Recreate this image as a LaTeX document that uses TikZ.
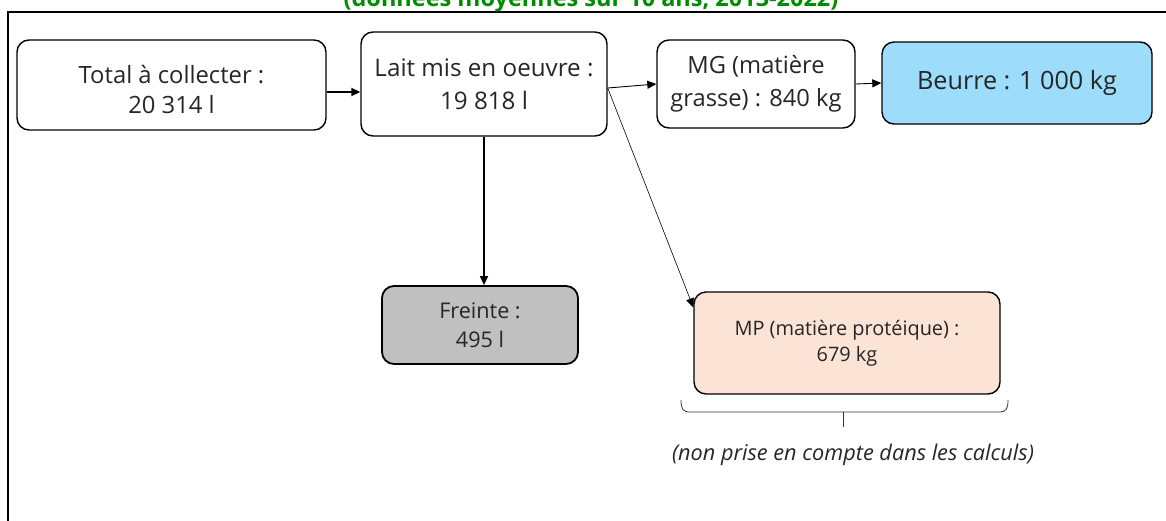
\documentclass[tikz,border=0pt]{standalone}
\usepackage{fontspec}
\setmainfont{Open Sans}
\usetikzlibrary{arrows.meta,calc}
\definecolor{titlegreen}{RGB}{0,140,0}
\definecolor{butterblue}{RGB}{158,220,251}
\definecolor{lossgray}{RGB}{192,192,192}
\definecolor{proteinpeach}{RGB}{251,227,214}
\tikzset{
  flowbox/.style={draw=black, line width=1.4pt, rounded corners=12pt,
    align=center, inner sep=0pt, text=black!85},
  link/.style={-{Triangle[length=9pt,width=8pt]}, line width=0.9pt},
  biglink/.style={link, line width=1.8pt},
  thinlink/.style={link, line width=0.6pt},
}
\begin{document}
\begin{tikzpicture}[x=1pt,y=-1pt]
\useasboundingbox (0,0) rectangle (1166,520);
\clip (0,0) rectangle (1166,520);
% outer frame
\draw[line width=2pt] (8,12) rectangle (1200,560);
% heading, partly above the frame
\node[titlegreen, font=\bfseries\fontsize{23.5}{28}\selectfont, anchor=base, inner sep=0pt]
  (title) at (591,6) {(données moyennes sur 10 ans, 2013-2022)};

% boxes
\node[flowbox, minimum width=309pt, minimum height=90pt, font=\fontsize{23.8}{30}\selectfont]
  (total) at (171.5,85) {};
\node[align=center, inner sep=0pt, text=black!85, font=\fontsize{23.8}{30}\selectfont]
  (totaltext) at ([yshift=-4pt]total.center) {Total à collecter :\\20 314 l};
\node[flowbox, minimum width=246pt, minimum height=104pt, font=\fontsize{24.2}{33}\selectfont]
  (lait) at (484,84) {Lait mis en oeuvre :\\19 818 l};
\node[flowbox, minimum width=198pt, minimum height=88pt, font=\fontsize{23.7}{33}\selectfont]
  (mg) at (756,84) {MG (matière\\grasse) : 840 kg};
\node[flowbox, fill=butterblue, minimum width=270pt, minimum height=82pt, font=\fontsize{25.2}{30}\selectfont]
  (beurre) at (1017,83) {Beurre : 1 000 kg};
\node[flowbox, fill=lossgray, line width=1.8pt, minimum width=196pt, minimum height=78pt, font=\fontsize{21.6}{29}\selectfont]
  (freinte) at (480,325) {Freinte :\\495 l};
\node[flowbox, fill=proteinpeach, minimum width=306pt, minimum height=102pt, font=\fontsize{19.9}{26}\selectfont]
  (mp) at (847,343) {MP (matière protéique) :\\679 kg};

% connectors
\coordinate (split) at ([yshift=-4pt]lait.east);
\draw[biglink] ([yshift=-7pt]total.east) -- ([yshift=-7pt]total.east -| lait.west);
\draw[link, line width=1.5pt] (lait.south) -- (lait.south |- freinte.north);
\draw[link] (split) -- (mg.west);
\draw[link] (mg.east) -- (beurre.west);
\draw[thinlink] (split) -- ([yshift=-16pt]mp.north west);

% bracket under the protein box
\coordinate (bl) at (681,400);
\coordinate (br) at (1008,400);
\coordinate (bm) at (843,412);
\coordinate (btip) at (843,427);
\draw[line width=0.8pt, black!80]
  (bl) .. controls (681,409) and (683,412) .. (690,412) -- (999,412)
  .. controls (1006,412) and (1008,409) .. (br);
\draw[line width=0.8pt, black!80] (bm) -- (btip);
\node[font=\itshape\fontsize{21.7}{26}\selectfont, text=black!85, inner sep=0pt]
  (note) at (853,455) {(non prise en compte dans les calculs)};
\end{tikzpicture}
\end{document}
